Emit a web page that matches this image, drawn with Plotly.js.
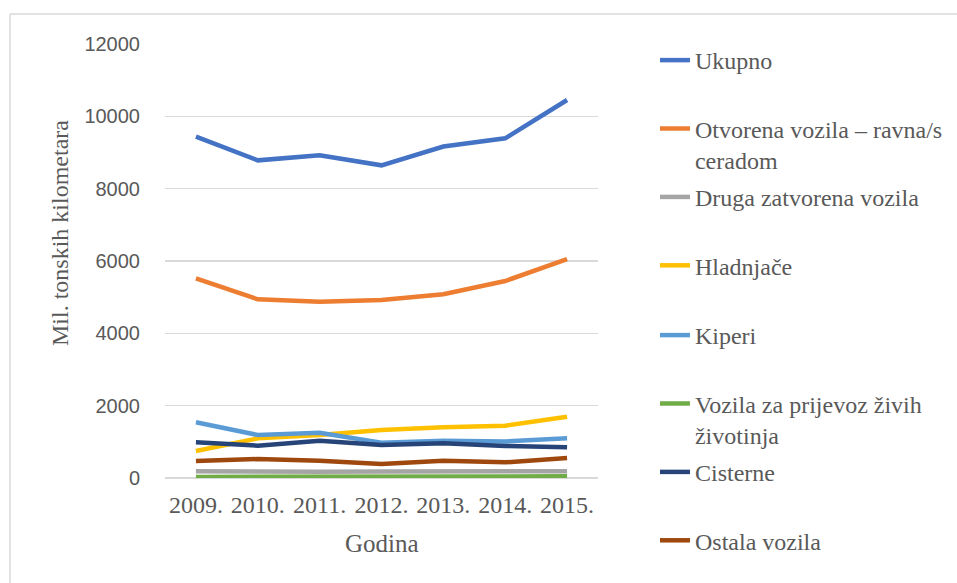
<!DOCTYPE html>
<html>
<head>
<meta charset="utf-8">
<script src="https://cdn.plot.ly/plotly-3.0.1.min.js"></script>
<style>
  html, body { margin: 0; padding: 0; background: #fff; }
  #chart { width: 957px; height: 583px; }
</style>
</head>
<body>
<div id="chart"></div>
<script>
const years = ["2009.", "2010.", "2011.", "2012.", "2013.", "2014.", "2015."];

const ukupno      = [9437, 8783, 8921, 8645, 9165, 9392, 10451];
const otvorena    = [5521, 4940, 4875, 4921, 5079, 5447, 6055];
const drugaZatv   = [190, 170, 175, 180, 185, 180, 185];
const hladnjace   = [746, 1097, 1189, 1327, 1401, 1447, 1695];
const kiperi      = [1540, 1189, 1253, 976, 1031, 1010, 1097];
const zivotinje   = [30, 30, 50, 45, 60, 50, 45];
const cisterne    = [986, 894, 1032, 912, 959, 885, 848];
const ostala      = [470, 525, 478, 387, 478, 433, 553];

const seriesNames = [
  "Ukupno",
  "Otvorena vozila – ravna/s<br>ceradom",
  "Druga zatvorena vozila",
  "Hladnjače",
  "Kiperi",
  "Vozila za prijevoz živih<br>životinja",
  "Cisterne",
  "Ostala vozila"
];
const seriesValues = [ukupno, otvorena, drugaZatv, hladnjace, kiperi, zivotinje, cisterne, ostala];
const seriesColors = ["#4472C4", "#ED7D31", "#A5A5A5", "#FFC000", "#5B9BD5", "#70AD47", "#264478", "#9E480E"];

const yTicks = [0, 2000, 4000, 6000, 8000, 10000, 12000];

// first four entries in one legend box, last four in a second box
const traces = seriesValues.map((vals, i) => {
  const lastInBox = (i === 3 || i === 7);
  const twoLine = seriesNames[i].indexOf("<br>") >= 0;
  return {
    type: "scatter",
    mode: "lines",
    x: years,
    y: vals,
    name: (twoLine || lastInBox) ? seriesNames[i] : seriesNames[i] + "<br>\u00a0",
    legend: i < 4 ? "legend" : "legend2",
    legendgroup: "g" + i,
    line: { color: seriesColors[i], width: 4.5, shape: "linear" },
    hoverinfo: "x+y+name"
  };
});

const serif = "Liberation Serif, Times New Roman, serif";
const sans = "Liberation Sans, Arial, sans-serif";
const textColor = "#595959";
const grid = "#D9D9D9";

const legendBase = {
  xref: "container",
  x: 0.6844,
  xanchor: "left",
  yanchor: "top",
  valign: "top",
  tracegroupgap: 3,
  font: { family: serif, size: 24, color: textColor },
  bgcolor: "rgba(0,0,0,0)",
  borderwidth: 0
};

const layout = {
  width: 957,
  height: 583,
  margin: { l: 165, r: 359, t: 44, b: 105, autoexpand: false },
  paper_bgcolor: "#ffffff",
  plot_bgcolor: "#ffffff",
  showlegend: true,
  xaxis: {
    type: "category",
    range: [-0.5, 6.5],
    showgrid: false,
    zeroline: false,
    showline: false,
    ticks: "outside",
    ticklen: 5,
    tickcolor: "rgba(0,0,0,0)",
    tickfont: { family: serif, size: 24, color: textColor },
    fixedrange: true
  },
  yaxis: {
    range: [0, 12000],
    tickvals: yTicks,
    ticktext: yTicks.map(String),
    showgrid: true,
    gridcolor: grid,
    gridwidth: 1.5,
    zeroline: true,
    zerolinecolor: grid,
    zerolinewidth: 1.5,
    showline: false,
    ticks: "outside",
    ticklen: 20,
    tickcolor: "rgba(0,0,0,0)",
    tickfont: { family: sans, size: 20, color: textColor },
    fixedrange: true
  },
  legend: Object.assign({}, legendBase, { y: 1.0138 }),
  legend2: Object.assign({}, legendBase, { y: 0.3802 }),
  annotations: [
    {
      text: "Mil. tonskih kilometara",
      xref: "paper", yref: "paper",
      x: -0.2425, y: 0.5645,
      xanchor: "center", yanchor: "middle",
      textangle: -90,
      showarrow: false,
      font: { family: serif, size: 24, color: textColor }
    },
    {
      text: "Godina",
      xref: "paper", yref: "paper",
      x: 0.5, y: -0.1498,
      xanchor: "center", yanchor: "middle",
      showarrow: false,
      font: { family: serif, size: 25, color: textColor }
    }
  ],
  shapes: [
    { type: "line", xref: "paper", yref: "paper", x0: -0.358, x1: 1.83, y0: 1.069, y1: 1.069,
      line: { color: "#D9D9D9", width: 1.5 } },
    { type: "line", xref: "paper", yref: "paper", x0: -0.358, x1: -0.358, y0: 1.069, y1: -0.25,
      line: { color: "#D9D9D9", width: 1.5 } }
  ]
};

Plotly.newPlot("chart", traces, layout, { displayModeBar: false, staticPlot: true });
</script>
</body>
</html>
